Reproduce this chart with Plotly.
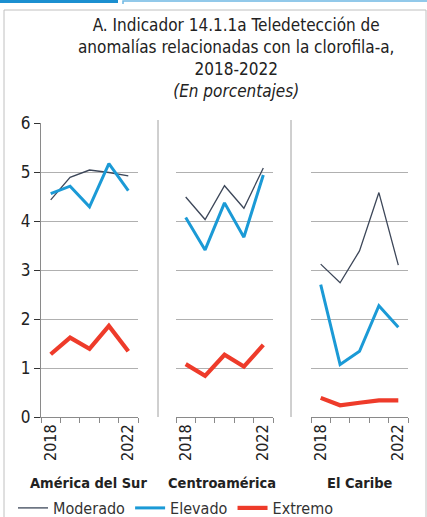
import plotly.graph_objects as go

years = [2018, 2019, 2020, 2021, 2022]
regions = ["América del Sur", "Centroamérica", "El Caribe"]
series_names = ["Moderado", "Elevado", "Extremo"]

moderado_sur = [4.43, 4.89, 5.04, 4.99, 4.92]
elevado_sur = [4.56, 4.71, 4.29, 5.17, 4.62]
extremo_sur = [1.28, 1.62, 1.39, 1.86, 1.34]

moderado_centro = [4.49, 4.03, 4.72, 4.26, 5.08]
elevado_centro = [4.07, 3.41, 4.37, 3.67, 4.94]
extremo_centro = [1.08, 0.84, 1.27, 1.03, 1.47]

moderado_caribe = [3.12, 2.74, 3.39, 4.58, 3.10]
elevado_caribe = [2.70, 1.07, 1.34, 2.27, 1.83]
extremo_caribe = [0.39, 0.24, 0.29, 0.34, 0.34]

y_ticks = [0, 1, 2, 3, 4, 5, 6]
x_tick_labels = ["2018", "2022"]

data = {
    "América del Sur": [moderado_sur, elevado_sur, extremo_sur],
    "Centroamérica": [moderado_centro, elevado_centro, extremo_centro],
    "El Caribe": [moderado_caribe, elevado_caribe, extremo_caribe],
}

W, H = 427, 517
FONT = "DejaVu Sans Condensed, Liberation Sans Narrow, Roboto, sans-serif"

colors = ["#3d4759", "#1b9ad6", "#ee3b2a"]
widths = [1.3, 3, 4.2]

fig = go.Figure()

def px(x):
    return x / W

def py(y):
    return (H - y) / H

domains = [(41, 138), (176, 273), (311, 408)]
ydom = [py(417), py(123)]

for i, reg in enumerate(regions):
    xa = "x" if i == 0 else f"x{i+1}"
    ya = "y" if i == 0 else f"y{i+1}"
    for j, name in enumerate(series_names):
        fig.add_trace(go.Scatter(
            x=years, y=data[reg][j], mode="lines", name=name,
            line=dict(color=colors[j], width=widths[j]),
            xaxis=xa, yaxis=ya, showlegend=(i == 0), hoverinfo="skip",
        ))

axis_gray = "#8a8a8a"
grid_gray = "#b0b0b0"
for i in range(3):
    k = "" if i == 0 else str(i + 1)
    fig.layout["xaxis" + k] = dict(
        domain=[px(domains[i][0]), px(domains[i][1])],
        range=[2017.5, 2022.5],
        tickvals=[2018, 2022], ticktext=x_tick_labels,
        ticks="", tickangle=-90,
        tickfont=dict(family=FONT, size=16, color="#222"),
        showline=True, linecolor=axis_gray, linewidth=1,
        showgrid=False, zeroline=False, automargin=False,
        minor=dict(tickvals=[2017.5, 2018.5, 2019.5, 2020.5, 2021.5, 2022.5],
                   ticks="outside", ticklen=5, tickcolor=axis_gray, showgrid=False),
        anchor="y" + k, fixedrange=True,
    )
    fig.layout["yaxis" + k] = dict(
        domain=ydom, range=[0, 6], tickvals=y_ticks,
        showticklabels=(i == 0),
        ticks="outside" if i == 0 else "", ticklen=6, tickcolor="#333",
        tickfont=dict(family=FONT, size=17, color="#222"),
        showline=(i == 0), linecolor=axis_gray, linewidth=1,
        showgrid=True, gridcolor=grid_gray, gridwidth=1, zeroline=False,
        anchor="x" + k, fixedrange=True, automargin=False,
    )

shapes = []
# outer frame
shapes.append(dict(type="rect", xref="paper", yref="paper",
                   x0=px(4), x1=px(426), y0=py(530), y1=py(10),
                   line=dict(color="#c0c0c0", width=1)))
# top blue tab
shapes.append(dict(type="rect", xref="paper", yref="paper",
                   x0=0, x1=px(118), y0=py(3), y1=1,
                   line=dict(width=0), fillcolor="#1b8fd0"))
shapes.append(dict(type="path", xref="paper", yref="paper",
                   path=f"M {px(123)} {py(4)} L {px(123)} {py(1)} L 1 {py(1)}",
                   line=dict(color="#6fb8e3", width=1.5)))
# separators
for xs in (158, 291):
    shapes.append(dict(type="line", xref="paper", yref="paper",
                       x0=px(xs), x1=px(xs), y0=py(417), y1=py(120),
                       line=dict(color="#a0a0a0", width=1)))

annotations = [dict(
    text="A. Indicador 14.1.1a Teledetección de<br>anomalías relacionadas con la clorofila-a,<br>2018-2022<br><i>(En porcentajes)</i>",
    xref="paper", yref="paper", x=px(236), y=py(13), xanchor="center", yanchor="top",
    showarrow=False, font=dict(family=FONT, size=17, color="#222"), align="center",
)]
for cx, reg in zip((88, 222, 360), regions):
    annotations.append(dict(text=f"<b>{reg}</b>", xref="paper", yref="paper",
                            x=px(cx), y=py(483), xanchor="center", yanchor="middle",
                            showarrow=False, font=dict(family=FONT, size=14.5, color="#222")))

fig.update_layout(
    width=W, height=H, margin=dict(l=0, r=0, t=0, b=0, autoexpand=False),
    paper_bgcolor="white", plot_bgcolor="white",
    shapes=shapes, annotations=annotations,
    legend=dict(orientation="h", x=px(13), y=py(508), xanchor="left", yanchor="middle",
                xref="container", yref="container",
                font=dict(family=FONT, size=16, color="#333"), tracegroupgap=0,
                itemwidth=30, bgcolor="rgba(0,0,0,0)"),
    showlegend=True,
)

fig.write_html("out.html", config={"displayModeBar": False},
               post_script="document.body.style.margin='0';document.body.style.overflow='hidden';")
